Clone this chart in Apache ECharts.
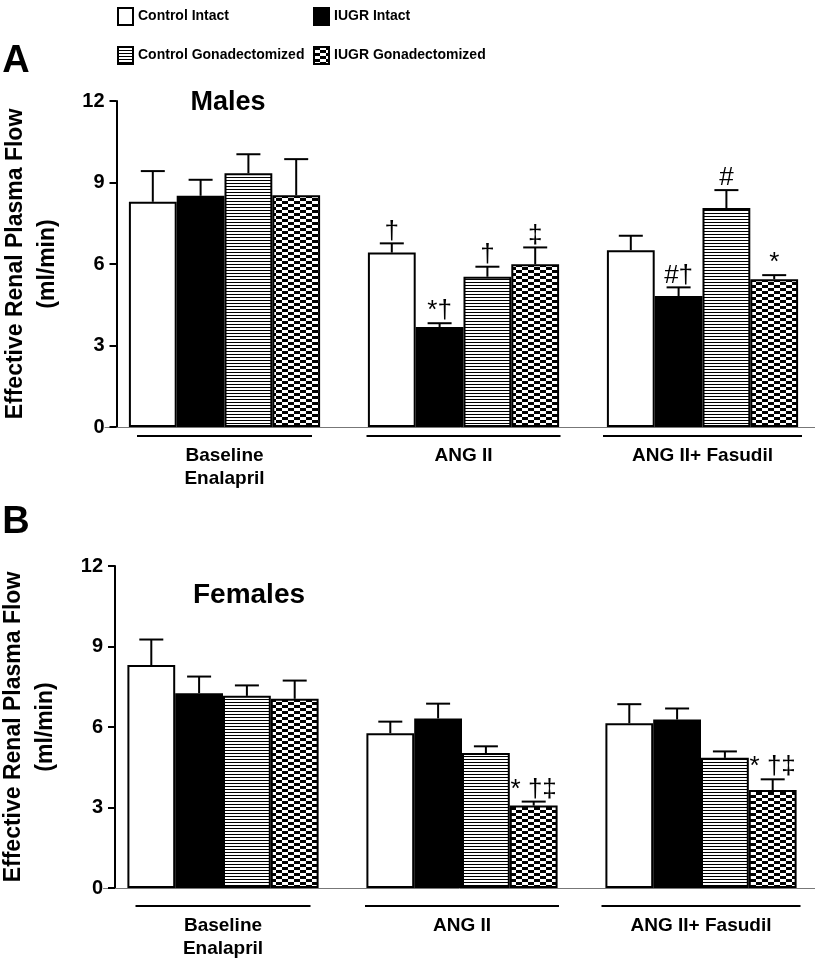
<!DOCTYPE html>
<html><head><meta charset="utf-8">
<script src="https://cdn.jsdelivr.net/npm/echarts@6/dist/echarts.min.js"></script>
<style>html,body{margin:0;padding:0;background:#fff}#c{width:815px;height:964px}</style>
</head><body><div id="c"></div>
<script>
// ---------- DATA ----------
const categories = ['Baseline\nEnalapril', 'ANG II', 'ANG II+ Fasudil'];
const groupNames = ['Control Intact', 'IUGR Intact', 'Control Gonadectomized', 'IUGR Gonadectomized'];
const yMin = 0, yMax = 12, yStep = 3;

// Panel A: Males (mean, SEM, significance marks)
const malesControlIntact = [8.29, 6.42, 6.51];
const malesIugrIntact = [8.51, 3.68, 4.82];
const malesControlGonad = [9.34, 5.53, 8.06];
const malesIugrGonad = [8.53, 5.99, 5.44];
const malesControlIntactSem = [1.13, 0.34, 0.53];
const malesIugrIntactSem = [0.59, 0.14, 0.32];
const malesControlGonadSem = [0.70, 0.37, 0.66];
const malesIugrGonadSem = [1.33, 0.62, 0.15];
const malesControlIntactMark = ['', '\u2020', ''];
const malesIugrIntactMark = ['', '*\u2020', '#\u2020'];
const malesControlGonadMark = ['', '\u2020', '#'];
const malesIugrGonadMark = ['', '\u2021', '*'];

// Panel B: Females
const femalesControlIntact = [8.31, 5.77, 6.14];
const femalesIugrIntact = [7.26, 6.32, 6.28];
const femalesControlGonad = [7.16, 5.03, 4.85];
const femalesIugrGonad = [7.05, 3.07, 3.65];
const femalesControlIntactSem = [0.95, 0.43, 0.71];
const femalesIugrIntactSem = [0.62, 0.55, 0.41];
const femalesControlGonadSem = [0.39, 0.25, 0.24];
const femalesIugrGonadSem = [0.68, 0.15, 0.40];
const femalesControlIntactMark = ['', '', ''];
const femalesIugrIntactMark = ['', '', ''];
const femalesControlGonadMark = ['', '', ''];
const femalesIugrGonadMark = ['', '* \u2020\u2021', '* \u2020\u2021'];

// ---------- PATTERNS ----------
function stripePattern() {
  const c = document.createElement('canvas'); c.width = 8; c.height = 3;
  const g = c.getContext('2d'); g.fillStyle = '#fff'; g.fillRect(0, 0, 8, 3);
  g.fillStyle = '#000'; g.fillRect(0, 0, 8, 1);
  return { image: c, repeat: 'repeat' };
}
function checkerPattern() {
  const c = document.createElement('canvas'); c.width = 12; c.height = 6;
  const g = c.getContext('2d'); g.fillStyle = '#fff'; g.fillRect(0, 0, 12, 6);
  g.fillStyle = '#000'; g.fillRect(0, 0, 6, 3); g.fillRect(6, 3, 6, 3);
  return { image: c, repeat: 'repeat' };
}
const fills = ['#ffffff', '#000000', stripePattern(), checkerPattern()];

const FONT = 'Arial, "Liberation Sans", Helvetica, sans-serif';
const panels = [
  { vals: [malesControlIntact, malesIugrIntact, malesControlGonad, malesIugrGonad],
    sems: [malesControlIntactSem, malesIugrIntactSem, malesControlGonadSem, malesIugrGonadSem],
    marks: [malesControlIntactMark, malesIugrIntactMark, malesControlGonadMark, malesIugrGonadMark],
    grid: { left: 105, width: 717, top: 101, height: 326 }, yOffset: -11.5, labelMargin: 8 },
  { vals: [femalesControlIntact, femalesIugrIntact, femalesControlGonad, femalesIugrGonad],
    sems: [femalesControlIntactSem, femalesIugrIntactSem, femalesControlGonadSem, femalesIugrGonadSem],
    marks: [femalesControlIntactMark, femalesIugrIntactMark, femalesControlGonadMark, femalesIugrGonadMark],
    grid: { left: 103.5, width: 717, top: 566, height: 322 }, yOffset: -11.5, labelMargin: 17 }
];

const underlineW = [175, 194, 199];
const rich = {
  sp: { height: 7 },
  t: { fontSize: 19, fontWeight: 'bold', lineHeight: 23, fontFamily: FONT, color: '#000' }
};
underlineW.forEach((w, i) => { rich['ln' + i] = { width: w, height: 2, backgroundColor: '#000' }; });

const grids = [], xAxes = [], yAxes = [], series = [];
panels.forEach((p, pi) => {
  grids.push(Object.assign({ outerBoundsMode: 'none', containLabel: false }, p.grid));
  xAxes.push({
    type: 'category', gridIndex: pi, data: categories,
    axisLine: { show: true, lineStyle: { color: '#777', width: 1 } },
    axisTick: { show: false },
    axisLabel: {
      interval: 0, margin: p.labelMargin,
      formatter: (v, i) => '{ln' + i + '| }\n{sp| }\n' + v.split('\n').map(s => '{t|' + s + '}').join('\n'),
      rich: rich
    }
  });
  yAxes.push({
    type: 'value', gridIndex: pi, min: yMin, max: yMax, interval: yStep, offset: p.yOffset,
    axisLine: { show: true, lineStyle: { color: '#000', width: 2 } },
    axisTick: { show: true, length: 7, lineStyle: { color: '#000', width: 2 } },
    splitLine: { show: false },
    axisLabel: { fontSize: 20, fontWeight: 'bold', color: '#000', fontFamily: FONT, margin: 12 },
    name: 'Effective Renal Plasma Flow\n(ml/min)', nameLocation: 'middle', nameGap: 53,
    nameTextStyle: { fontSize: 23, fontWeight: 'bold', color: '#000', fontFamily: FONT, lineHeight: 32 }
  });
  groupNames.forEach((n, k) => {
    series.push({
      type: 'bar', name: n, xAxisIndex: pi, yAxisIndex: pi, data: p.vals[k],
      barGap: '0%', barCategoryGap: '20%',
      itemStyle: { color: fills[k], borderColor: '#000', borderWidth: 2 }
    });
  });
  const recs = [];
  for (let k = 0; k < 4; k++) for (let c = 0; c < 3; c++)
    recs.push({ c, k, v: p.vals[k][c], e: p.sems[k][c], m: p.marks[k][c] });
  series.push({
    type: 'custom', xAxisIndex: pi, yAxisIndex: pi, z: 5,
    data: recs.map(r => [r.c, r.v, r.v + r.e]),
    encode: { x: 0, y: [1, 2] },
    renderItem: (params, api) => {
      const r = recs[params.dataIndex];
      const base = api.coord([r.c, r.v]);
      const top = api.coord([r.c, r.v + r.e]);
      const bw = api.size([1, 0])[0] * 0.8 / 4;
      const x = base[0] + (r.k - 1.5) * bw;
      const ls = { stroke: '#000', lineWidth: 2 };
      const children = [
        { type: 'line', shape: { x1: x, y1: base[1], x2: x, y2: top[1] }, style: ls },
        { type: 'line', shape: { x1: x - 12, y1: top[1], x2: x + 12, y2: top[1] }, style: ls }
      ];
      if (r.m) children.push({
        type: 'text',
        style: { text: r.m, x: x, y: top[1] + 1, align: 'center', verticalAlign: 'bottom',
                 fontSize: 26, fontFamily: FONT, fill: '#000' }
      });
      return { type: 'group', children };
    }
  });
});

const legendCommon = {
  orient: 'vertical', itemWidth: 15, itemHeight: 17, itemGap: 20, top: 2,
  icon: 'rect',
  textStyle: { fontSize: 14, fontWeight: 'bold', color: '#000', fontFamily: FONT, lineHeight: 17 },
  selectedMode: false
};

const chart = echarts.init(document.getElementById('c'), null, { renderer: 'canvas' });
chart.setOption({
  animation: false,
  backgroundColor: '#fff',
  legend: [
    Object.assign({ left: 112, data: ['Control Intact', 'Control Gonadectomized'] }, legendCommon),
    Object.assign({ left: 308, data: ['IUGR Intact', 'IUGR Gonadectomized'] }, legendCommon)
  ],
  grid: grids, xAxis: xAxes, yAxis: yAxes, series: series,
  graphic: [
    { type: 'text', x: 16, y: 62, style: { text: 'A', fontSize: 38, fontWeight: 'bold', fontFamily: FONT, align: 'center', verticalAlign: 'middle', fill: '#000' } },
    { type: 'text', x: 16, y: 523, style: { text: 'B', fontSize: 38, fontWeight: 'bold', fontFamily: FONT, align: 'center', verticalAlign: 'middle', fill: '#000' } },
    { type: 'text', x: 228, y: 103, style: { text: 'Males', fontSize: 27, fontWeight: 'bold', fontFamily: FONT, align: 'center', verticalAlign: 'middle', fill: '#000' } },
    { type: 'text', x: 249, y: 595, style: { text: 'Females', fontSize: 28, fontWeight: 'bold', fontFamily: FONT, align: 'center', verticalAlign: 'middle', fill: '#000' } }
  ]
});
</script></body></html>
